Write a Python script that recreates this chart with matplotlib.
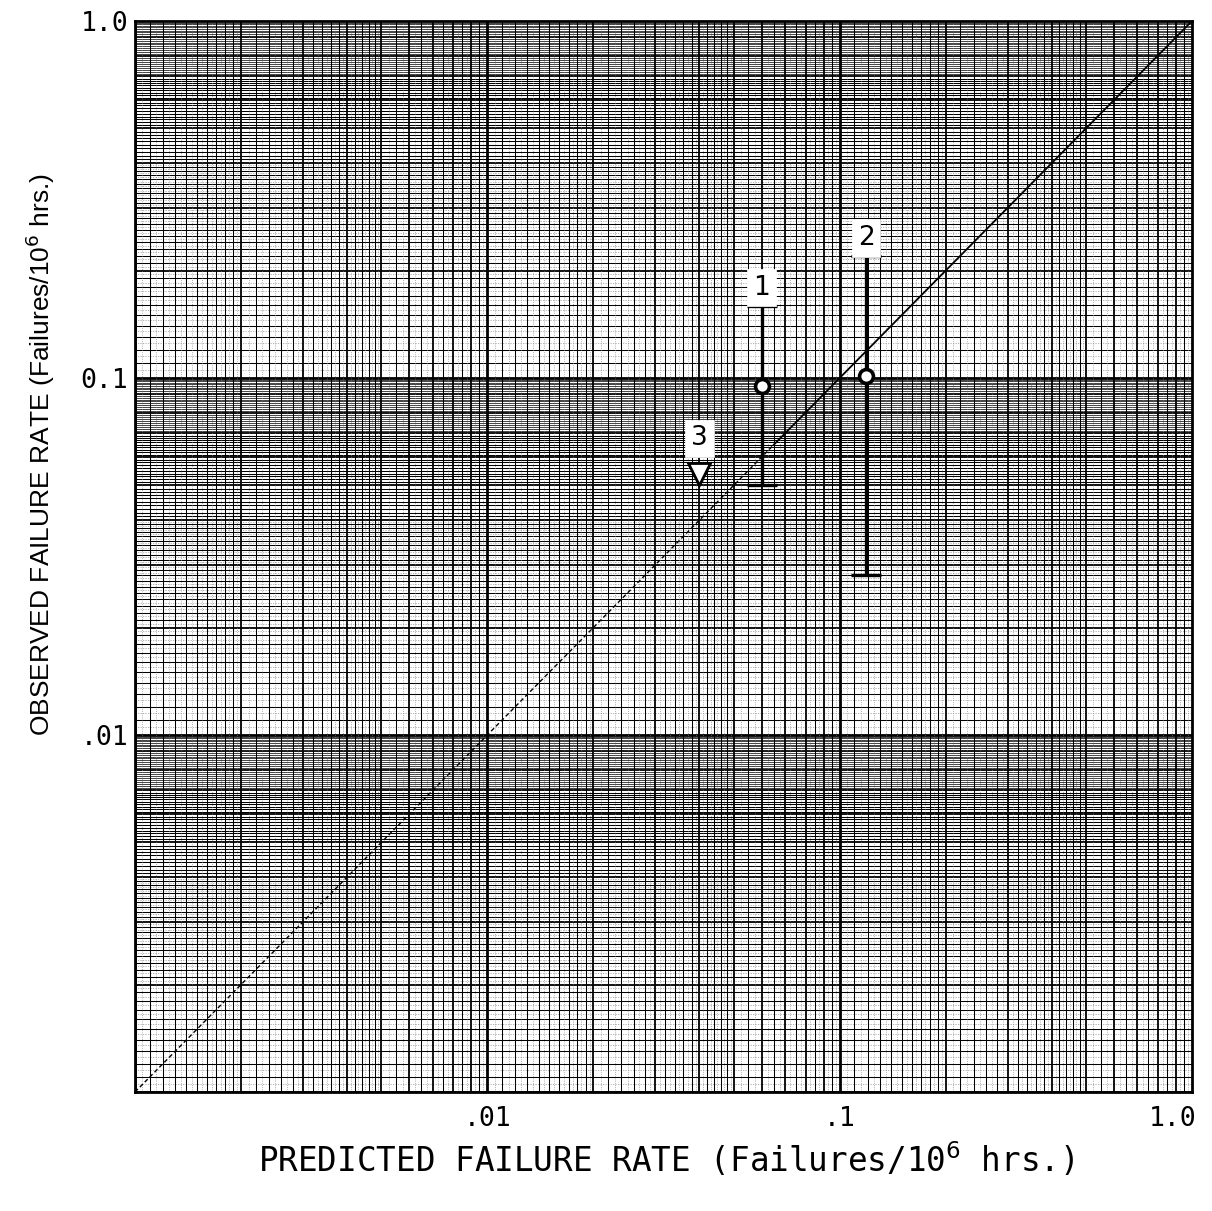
import numpy as np
import matplotlib
matplotlib.use("Agg")
import matplotlib.pyplot as plt
import matplotlib.transforms as mtransforms

# ---- data ----
labels = ["1", "2", "3"]
pred = [0.060, 0.119]            # predicted failure rate for points 1, 2
obs = [0.095, 0.101]             # observed failure rate
obs_hi = [0.159, 0.219]          # upper bound
obs_lo = [0.050, 0.028]          # lower bound
pred3 = [0.040]                  # point 3 (upper-limit marker)
obs3 = [0.054]
diag_x = [0.001, 0.065, 1.0]
diag_y = [0.001, 0.065, 1.0]

xticks = [0.01, 0.1, 1.0]
xticklabels = [".01", ".1", "1.0"]
yticks = [0.01, 0.1, 1.0]
yticklabels = [".01", "0.1", "1.0"]

L, R, T, B = 135, 1192, 21, 1092
fig = plt.figure(figsize=(12.12, 12.11), dpi=100)
ax = fig.add_axes([L/1212, 1 - B/1211, (R-L)/1212, (B-T)/1211])
ax.set_xscale("log")
ax.set_yscale("log")
ax.set_xlim(0.001, 1.0)
ax.set_ylim(0.001, 1.0)

decades = [1e-3, 1e-2, 1e-1]

# ---- graph-paper grid ----
# horizontal: linear steps inside each decade (denser towards the top of each decade)
for b in decades:
    for m in np.arange(1.0, 10.0 - 1e-9, 0.05):
        k = int(round(m * 20))
        if k % 20 == 0:
            ax.axhline(m * b, color="black", lw=(2.0 if k == 20 else 1.3), zorder=1)
        elif k % 2 == 0:
            ax.axhline(m * b, color="black" if m < 7 else "0.15",
                       lw=0.75 if m < 7 else 0.6, zorder=1)
        elif m < 4.0:
            ax.axhline(m * b, color="0.55", lw=0.45, ls=(0, (2, 2)), zorder=1)

# vertical
for b in decades:
    vals = list(np.arange(1.0, 2.0 - 1e-9, 0.1)) + list(np.arange(2.0, 5.0 - 1e-9, 0.2)) + \
        list(np.arange(5.0, 10.0 - 1e-9, 0.5))
    for m in vals:
        integer = abs(m - round(m)) < 1e-6
        lw = 2.0 if abs(m - 1) < 1e-6 else (1.3 if integer else 0.75)
        ax.axvline(m * b, color="black", lw=lw, zorder=1)
    fine = list(np.arange(1.05, 2.0, 0.1)) + list(np.arange(2.1, 5.0, 0.2)) + \
        list(np.arange(5.25, 10.0, 0.5))
    for m in fine:
        ax.axvline(m * b, color="0.5", lw=0.45, ls=(0, (1.5, 2)), zorder=1)

# diagonal
ax.plot(diag_x[:2], diag_y[:2], color="black", lw=1.0, ls=(0, (3, 2)), zorder=3)
ax.plot(diag_x[1:], diag_y[1:], color="black", lw=1.3, zorder=3)

# error bars
for i in range(len(pred)):
    ax.errorbar([pred[i]], [obs[i]], yerr=[[obs[i] - obs_lo[i]], [obs_hi[i] - obs[i]]],
                fmt="none", ecolor="black", elinewidth=2.4, capsize=11, capthick=2.4, zorder=4)
    ax.plot([pred[i]], [obs[i]], marker="o", ms=10, mfc="white", mec="black", mew=2.6, zorder=5)
    ax.annotate(labels[i], (pred[i], obs_hi[i]), xytext=(0, 4), textcoords="offset points",
                ha="center", va="bottom", fontsize=19, family="DejaVu Sans",
                bbox=dict(boxstyle="square,pad=0.22", fc="white", ec="white", lw=0.5), zorder=6)

ax.plot(pred3, obs3, marker="v", ms=16, mfc="white", mec="black", mew=2.0, ls="none", zorder=5)
ax.annotate(labels[2], (pred3[0], obs3[0]), xytext=(0, 16), textcoords="offset points",
            ha="center", va="bottom", fontsize=19, family="DejaVu Sans",
            bbox=dict(boxstyle="square,pad=0.22", fc="white", ec="white", lw=0.5), zorder=6)

for s in ax.spines.values():
    s.set_linewidth(2.0)

ax.set_xticks(xticks)
ax.set_xticklabels(xticklabels)
ax.set_yticks(yticks)
ax.set_yticklabels(yticklabels)
ax.minorticks_off()
ax.tick_params(axis="x", length=0, labelsize=19, pad=10)
ax.tick_params(axis="y", length=0, labelsize=19, pad=5)
for t in ax.get_xticklabels() + ax.get_yticklabels():
    t.set_family("DejaVu Sans Mono")
last = ax.get_xticklabels()[-1]
last.set_horizontalalignment("right")
last.set_transform(last.get_transform() + mtransforms.ScaledTranslation(4/100, 0, fig.dpi_scale_trans))

fig.text(666/1212, 1 - 1160/1211, "PREDICTED FAILURE RATE (Failures/10$^6$ hrs.)",
         ha="center", va="center", fontsize=23.5, family="DejaVu Sans Mono")
fig.text(40/1212, 1 - 455/1211, "OBSERVED FAILURE RATE (Failures/10$^6$ hrs.)",
         ha="center", va="center", rotation=90, fontsize=19, family="Liberation Sans")

fig.savefig("out.png", dpi=100)
